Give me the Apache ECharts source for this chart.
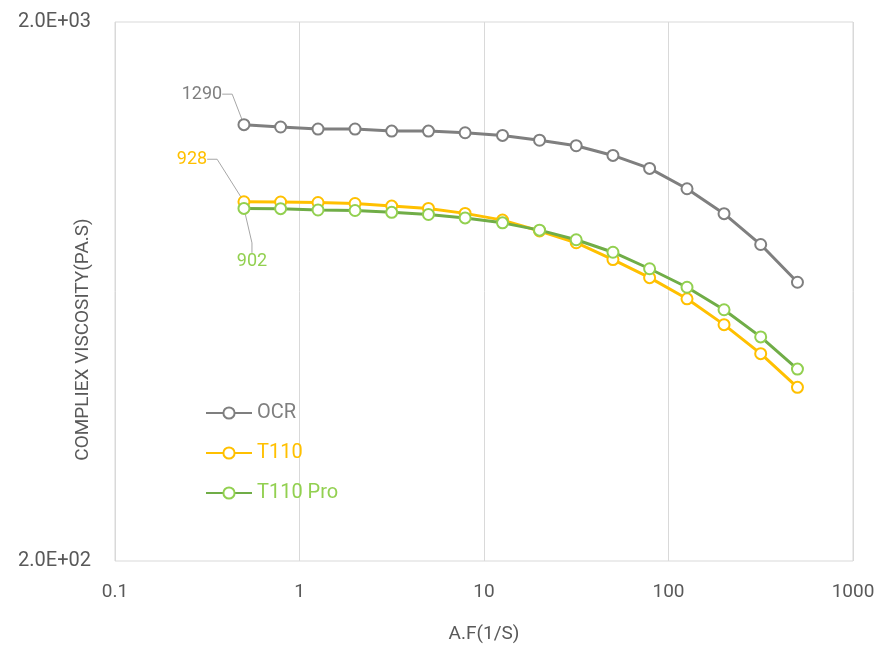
<!DOCTYPE html>
<html>
<head>
<meta charset="utf-8">
<script src="https://cdn.jsdelivr.net/npm/echarts@6/dist/echarts.min.js"></script>
<style>
  html, body { margin: 0; padding: 0; background: #fff; }
  #chart { width: 883px; height: 649px; }
</style>
</head>
<body>
<div id="chart"></div>
<script>
// shear rate (1/s)
const shearRate = [0.5, 0.79, 1.26, 2, 3.16, 5, 7.9, 12.6, 20, 31.6, 50, 79, 126, 200, 316, 500];

// complex viscosity (Pa.s)
const ocr = [1290, 1277, 1266, 1266, 1255, 1255, 1246, 1232, 1207, 1179, 1131, 1070, 981, 882, 773, 658];
const t110 = [928, 927, 925, 921, 911, 902, 883, 858, 819, 779, 725, 671, 613, 549, 485, 420];
const t110Pro = [902, 901, 896, 894, 887, 879, 866, 848, 822, 789, 748, 697, 644, 585, 521, 454];

const seriesNames = ["OCR", "T110", "T110 Pro"];
const xName = "A.F(1/S)";
const yName = "COMPLIEX VISCOSITY(PA.S)";

const fontFamily = "Roboto, 'Noto Sans', sans-serif";
const labelGrey = "#595959";

const chart = echarts.init(document.getElementById("chart"));

const makeSeries = (name, values, lineColor, markColor, labelOpt) => ({
  name: name,
  type: "line",
  symbol: "emptyCircle",
  symbolSize: 11,
  lineStyle: { color: lineColor, width: 3 },
  itemStyle: { color: markColor, borderColor: markColor, borderWidth: 2.5 },
  labelLine: { show: false },
  labelLayout: labelOpt.layout,
  data: values.map((v, i) => {
    if (i !== 0) return [shearRate[i], v];
    return {
      value: [shearRate[i], v],
      label: {
        show: true,
        position: labelOpt.position,
        formatter: String(v),
        color: markColor,
        fontSize: 18,
        fontFamily: fontFamily,
      },
      labelLine: {
        show: true,
        length2: 10,
        lineStyle: { color: "#a6a6a6", width: 1 },
      },
    };
  }),
  z: labelOpt.z,
});

chart.setOption({
  animation: false,
  textStyle: { fontFamily: fontFamily },
  grid: {
    left: 115,
    right: 30,
    top: 22,
    bottom: 88,
    outerBoundsMode: "none",
    containLabel: false,
    show: true,
    borderColor: "#d9d9d9",
    borderWidth: 1,
  },
  legend: {
    orient: "vertical",
    left: 200,
    top: 398,
    itemWidth: 46,
    itemHeight: 14,
    itemGap: 20,
    textStyle: { fontSize: 20, fontFamily: fontFamily },
    data: [
      { name: seriesNames[0], textStyle: { color: "#7f7f7f" } },
      { name: seriesNames[1], textStyle: { color: "#ffc000" } },
      { name: seriesNames[2], textStyle: { color: "#92d050" } },
    ],
  },
  xAxis: {
    type: "log",
    logBase: 10,
    min: 0.1,
    max: 1000,
    name: xName,
    nameLocation: "middle",
    nameGap: 64,
    nameMoveOverlap: false,
    nameTextStyle: { color: labelGrey, fontSize: 19 },
    axisLine: { show: false },
    axisTick: { show: false },
    axisLabel: {
      color: labelGrey,
      fontSize: 19,
      margin: 22,
      formatter: (v) => String(Number(v.toPrecision(3))),
    },
    splitLine: { show: true, lineStyle: { color: "#d9d9d9", width: 1 } },
    minorSplitLine: { show: false },
  },
  yAxis: {
    type: "log",
    logBase: 10,
    min: 200,
    max: 2000,
    name: yName,
    nameLocation: "middle",
    nameGap: 22,
    nameMoveOverlap: false,
    nameTextStyle: { color: labelGrey, fontSize: 19, padding: [0, 96, 0, 0] },
    axisLine: { show: false },
    axisTick: { show: false },
    splitLine: { show: false },
    axisLabel: {
      color: labelGrey,
      fontSize: 20,
      margin: 24,
      showMinLabel: true,
      showMaxLabel: true,
      formatter: (v) => {
        const r = Math.round(v);
        if (r !== 200 && r !== 2000) return "";
        const exp = Math.floor(Math.log10(r));
        const mant = (r / Math.pow(10, exp)).toFixed(1);
        return mant + "E+" + String(exp).padStart(2, "0");
      },
    },
  },
  series: [
    makeSeries(seriesNames[0], ocr, "#7f7f7f", "#7f7f7f", {
      position: "top",
      layout: { dx: -42, dy: -10 },
      z: 2,
    }),
    makeSeries(seriesNames[1], t110, "#ffc000", "#ffc000", {
      position: "top",
      layout: { dx: -52, dy: -22 },
      z: 3,
    }),
    makeSeries(seriesNames[2], t110Pro, "#70ad47", "#92d050", {
      position: "bottom",
      layout: { dx: 8, dy: 33 },
      z: 4,
    }),
  ],
});
</script>
</body>
</html>
